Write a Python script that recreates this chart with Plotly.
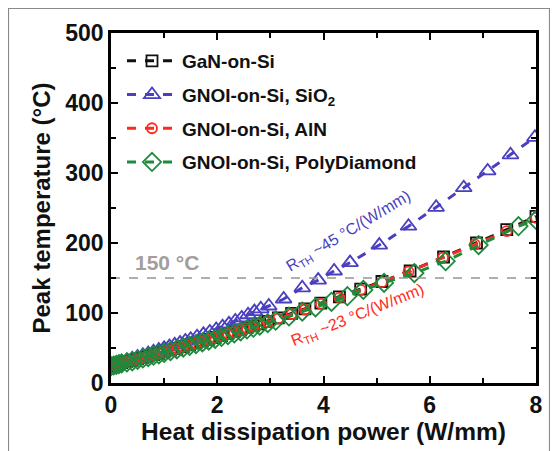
import plotly.graph_objects as go

# ---------------- data ----------------
gan_x = [0, 0.05, 0.1, 0.15, 0.2, 0.3, 0.4, 0.5, 0.6, 0.7, 0.8, 0.9, 1.0, 1.12, 1.24,
         1.36, 1.48, 1.6, 1.72, 1.84, 1.96, 2.08, 2.2, 2.32, 2.44, 2.56, 2.68, 2.8,
         2.95, 3.15, 3.4, 3.65, 3.95, 4.3, 4.7, 5.1, 5.63, 6.26, 6.88, 7.45, 8.0]
gan_y = [25, 26, 27, 28, 29, 31, 32.5, 34.5, 36.5, 38.5, 40.5, 42.3, 44.4, 47, 49.6,
         52, 54.5, 57, 59.7, 62.4, 65, 67.8, 70.5, 73.3, 76, 79, 81.7, 84.6,
         88, 93, 99.5, 106, 114, 123, 134, 145, 160, 180, 200, 219, 238]

sio2_x = [0, 0.05, 0.1, 0.15, 0.2, 0.3, 0.4, 0.5, 0.6, 0.7, 0.8, 0.9, 1.0, 1.1, 1.2,
          1.3, 1.4, 1.5, 1.62, 1.74, 1.86, 1.98, 2.1, 2.22, 2.34, 2.46, 2.58, 2.7,
          2.82, 2.97, 3.25, 3.6, 3.9, 4.2, 4.5, 5.05, 5.6, 6.12, 6.64, 7.09, 7.52, 7.98]
sio2_y = [25, 26, 27, 28.5, 29.6, 32, 34.5, 37, 39.5, 42, 44.6, 47, 49.5, 52, 54.5,
          57, 60, 62.5, 66, 69.5, 73, 76.5, 80.5, 84.5, 88.5, 93, 97.5, 102,
          106, 110, 120, 136, 147, 160, 172, 197, 224, 251, 279, 303, 326, 351]

aln_x = [0, 0.05, 0.1, 0.15, 0.2, 0.3, 0.4, 0.5, 0.6, 0.7, 0.8, 0.9, 1.0, 1.12, 1.24,
         1.36, 1.48, 1.6, 1.72, 1.84, 1.96, 2.08, 2.2, 2.32, 2.44, 2.56, 2.68, 2.8,
         2.95, 3.15, 3.4, 3.65, 3.95, 4.3, 4.7, 5.1, 5.6, 6.25, 6.85, 7.45, 8.0]
aln_y = [25, 26, 27, 28, 29, 30.5, 32, 34, 36, 38, 40, 42, 44, 46.5, 49,
         51.5, 54, 56.5, 59, 61.8, 64.4, 67, 70, 72.6, 75.3, 78, 81, 84,
         87, 92, 98.5, 105, 113, 122, 133, 144, 159, 179, 198, 217, 236]

poly_x = [0, 0.05, 0.1, 0.15, 0.2, 0.3, 0.4, 0.5, 0.6, 0.7, 0.8, 0.9, 1.0, 1.12, 1.24,
          1.36, 1.48, 1.6, 1.72, 1.84, 1.96, 2.08, 2.2, 2.32, 2.44, 2.56, 2.68, 2.8,
          2.95, 3.1, 3.35, 3.6, 3.85, 4.15, 4.45, 4.75, 5.14, 5.71, 6.3, 6.92, 7.67, 8.0]
poly_y = [24, 25, 26, 27, 28, 29.5, 31, 33, 35, 37, 39, 41, 43, 45.5, 48,
          50.5, 53, 55.5, 58, 60.5, 63, 65.8, 68.5, 71, 73.7, 76.5, 79, 82,
          85.5, 89, 95, 102, 108, 116, 124, 133, 143, 157, 174, 197, 224, 233]

x_ticks = [0, 2, 4, 6, 8]
x_tick_text = ["0", "2", "4", "6", "8"]
y_ticks = [0, 100, 200, 300, 400, 500]
y_tick_text = ["0", "100", "200", "300", "400", "500"]
threshold = 150

FONT = "Arial, Liberation Sans, sans-serif"

# plot-area pixel box in the page (page body has an 8px offset)
PX0, PX1, PY0, PY1 = 111, 536, 33, 383


def paper_x(px):
    return (px - PX0) / (PX1 - PX0)


def paper_y(py):
    return (PY1 - py) / (PY1 - PY0)


fig = go.Figure()

series = [
    ("GaN-on-Si", gan_x, gan_y, "#111111", "square-open", 11),
    ("GNOI-on-Si, SiO<sub>2</sub>", sio2_x, sio2_y, "#4a3fc0", "triangle-up-open", 14),
    ("GNOI-on-Si, AlN", aln_x, aln_y, "#ff2a1a", "circle-open", 10),
    ("GNOI-on-Si, PolyDiamond", poly_x, poly_y, "#1e8a3c", "diamond-open", 14),
]
for i, (name, xs, ys, col, sym, sz) in enumerate(series):
    fig.add_trace(go.Scatter(
        x=xs, y=ys, name=name, mode="lines+markers",
        line=dict(color=col, width=3, dash="dash"),
        marker=dict(symbol=sym, size=sz, color=col, line=dict(color=col, width=1.8)),
        legendgroup=f"g{i}",
    ))

# 150 °C reference line
fig.add_trace(go.Scatter(
    x=[0, 8], y=[threshold, threshold], mode="lines", showlegend=False,
    line=dict(color="#9a9492", width=1.5, dash="dash"), hoverinfo="skip",
))

fig.add_annotation(x=1.06, y=172, text="<b>150 °C</b>", showarrow=False,
                   font=dict(family=FONT, size=21, color="#a39d9b"))
fig.add_annotation(x=4.48, y=216, text="R<sub>TH</sub> ~45 °C/(W/mm)", showarrow=False,
                   textangle=-31, font=dict(family=FONT, size=16, color="#4a3fc0"))
fig.add_annotation(x=4.65, y=96, text="R<sub>TH</sub> ~23 °C/(W/mm)", showarrow=False,
                   textangle=-22, font=dict(family=FONT, size=16, color="#ff2a1a"))

# outer figure frame
fig.add_shape(type="rect", xref="paper", yref="paper",
              x0=paper_x(8.5), x1=paper_x(549.5),
              y0=paper_y(460), y1=paper_y(8.5),
              line=dict(color="#8a8a8a", width=1.2), layer="below")

axis_common = dict(
    showgrid=False, zeroline=False, showline=True, linecolor="black", linewidth=2.5,
    mirror="allticks", ticks="inside", ticklen=7, tickwidth=2, tickcolor="black",
    tickfont=dict(family=FONT, size=23, color="#111111", weight="bold"),
)
fig.update_xaxes(range=[0, 8], tickmode="array", tickvals=x_ticks, ticktext=x_tick_text,
                 minor=dict(dtick=1, ticks="inside", ticklen=5, tickwidth=2, tickcolor="black"),
                 title=dict(text="<b>Heat dissipation power (W/mm)</b>", standoff=3,
                            font=dict(family=FONT, size=24.5, color="#111111")),
                 **axis_common)
fig.update_yaxes(range=[0, 500], tickmode="array", tickvals=y_ticks, ticktext=y_tick_text,
                 minor=dict(dtick=50, ticks="inside", ticklen=5, tickwidth=2, tickcolor="black"),
                 title=dict(text="<b>Peak temperature (°C)</b>", standoff=8,
                            font=dict(family=FONT, size=24, color="#111111")),
                 **axis_common)

fig.update_layout(
    width=550, height=443,
    margin=dict(l=PX0 - 8, r=558 - PX1, t=PY0 - 8, b=443 + 8 - PY1),
    paper_bgcolor="white", plot_bgcolor="white",
    legend=dict(x=paper_x(122), y=paper_y(42), xanchor="left", yanchor="top",
                bgcolor="rgba(255,255,255,0)", tracegroupgap=6, itemwidth=50,
                font=dict(family=FONT, size=19, color="#111111", weight="bold")),
    showlegend=True,
)

fig.write_html("out.html")
